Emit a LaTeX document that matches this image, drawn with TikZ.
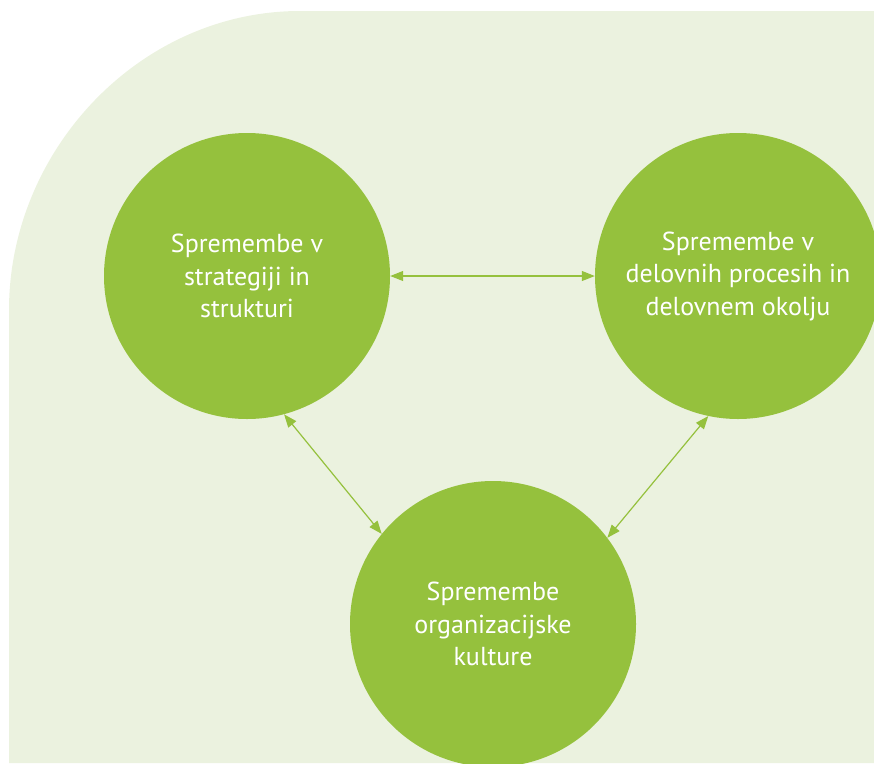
\documentclass[tikz,border=0pt]{standalone}
\usepackage{fontspec}
\setmainfont{PT Sans}
\usetikzlibrary{arrows.meta}
\definecolor{bgg}{HTML}{EBF2DF}
\definecolor{cg}{HTML}{95C13D}
\tikzset{
  bubble/.style={circle, fill=cg, minimum size=286pt, inner sep=0pt, text=white,
    align=center, font=\fontsize{26}{32.5}\selectfont},
  link/.style={draw=cg, line width=1.2pt, {Triangle[length=13pt,width=10pt]}-{Triangle[length=13pt,width=10pt]}}
}
\begin{document}
\begin{tikzpicture}[x=1pt,y=-1pt]
\useasboundingbox (0,0) rectangle (874,763);
\fill[bgg] (9,763) -- (9,310) .. controls (9,150) and (140,11) .. (300,11) -- (874,11) -- (874,763) -- cycle;
\node[bubble] (a) at (247,276) {Spremembe v\\strategiji in\\strukturi};
\node[bubble] (b) at (738,276) {Spremembe v\\delovnih procesih in\\delovnem okolju};
\node[bubble] (c) at (493,624) {Spremembe\\organizacijske\\kulture};
\draw[link] (a.east) -- (b.west);
\draw[link] (a.-75) -- (c.141);
\draw[link] (b.-102) -- (c.37);
\end{tikzpicture}
\end{document}
